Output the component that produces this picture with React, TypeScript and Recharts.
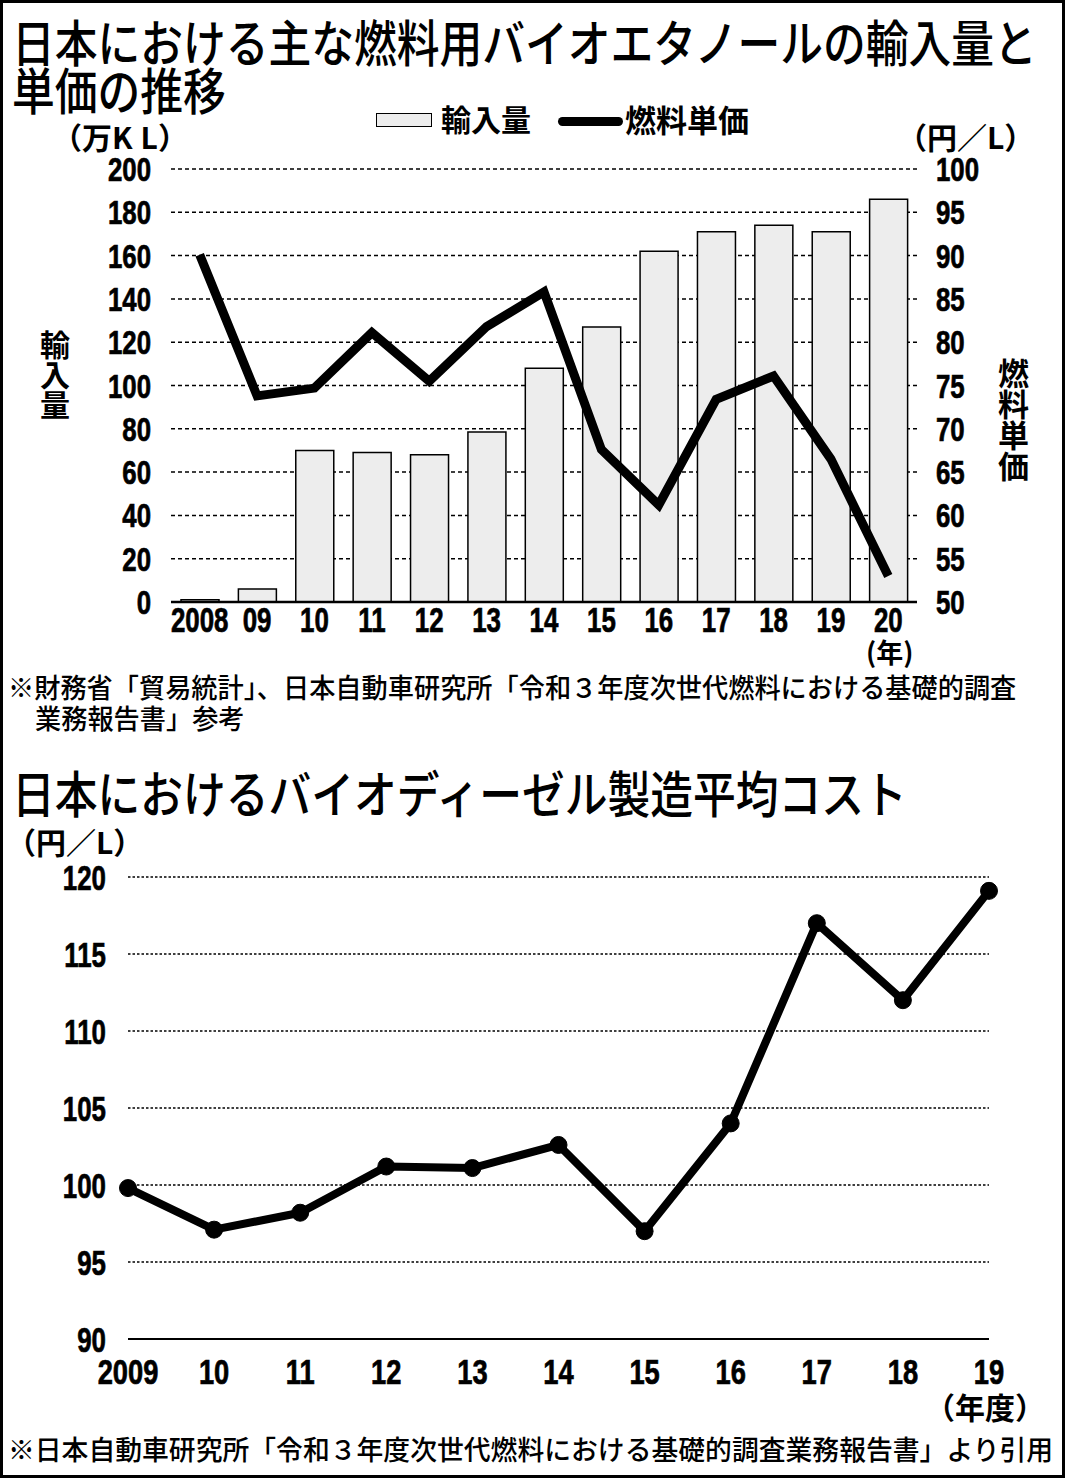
import React from 'react';
import { ComposedChart, LineChart, Bar, Line, XAxis, YAxis, CartesianGrid } from 'recharts';

// 燃料用バイオエタノール（年）
const ethanolYears = ['2008', '09', '10', '11', '12', '13', '14', '15', '16', '17', '18', '19', '20'];
const importVolume = [1, 6, 70, 69, 68, 78.5, 108, 127, 162, 171, 174, 171, 186]; // 万KL
const fuelPrice = [90.1, 73.8, 74.7, 81.1, 75.5, 81.8, 85.8, 67.6, 61.2, 73.4, 76.1, 66.5, 53]; // 円/L
const volumeTicks = [0, 20, 40, 60, 80, 100, 120, 140, 160, 180, 200];
const priceTicks = [50, 55, 60, 65, 70, 75, 80, 85, 90, 95, 100];

// バイオディーゼル製造平均コスト（年度）
const dieselYears = ['2009', '10', '11', '12', '13', '14', '15', '16', '17', '18', '19'];
const dieselCost = [99.8, 97.1, 98.2, 101.2, 101.1, 102.6, 97.0, 104.0, 117.0, 112.0, 119.1]; // 円/L
const costTicks = [90, 95, 100, 105, 110, 115, 120];

const ethanolRows = ethanolYears.map((year, i) => ({
  year,
  volume: importVolume[i],
  price: fuelPrice[i],
}));

const dieselRows = dieselYears.map((year, i) => ({ year, cost: dieselCost[i] }));

const JP = "'Noto Sans CJK JP', 'Noto Sans', sans-serif";
const NUM = "'Liberation Sans', Arial, sans-serif";

function NumTick(props: any) {
  const { x, y, payload, anchor, dy, size, sx } = props;
  return (
    <g transform={`translate(${x},${y})`}>
      <text
        transform={`scale(${sx},1)`}
        textAnchor={anchor}
        dy={dy}
        fontSize={size}
        fontWeight="bold"
        fontFamily={NUM}
        fill="#000"
        stroke="#000"
        strokeWidth={0.7}
      >
        {payload.value}
      </text>
    </g>
  );
}

function Txt({
  left,
  top,
  size,
  weight = 700,
  sx = 1,
  lh = 1,
  children,
  style,
}: {
  left: number;
  top: number;
  size: number;
  weight?: number;
  sx?: number;
  lh?: number;
  children: React.ReactNode;
  style?: React.CSSProperties;
}) {
  return (
    <div
      style={{
        position: 'absolute',
        left,
        top,
        fontSize: size,
        fontWeight: weight,
        fontFamily: JP,
        lineHeight: lh,
        whiteSpace: 'nowrap',
        color: '#000',
        transform: `scaleX(${sx})`,
        transformOrigin: 'left top',
        ...style,
      }}
    >
      {children}
    </div>
  );
}

const wideK = { letterSpacing: 8 };

export default function App() {
  return (
    <div style={{ position: 'absolute', left: 0, top: 0, width: 1065, height: 1478, background: '#fff' }}>
      {/* titles */}
      <Txt left={12} top={17} size={50} weight={500} sx={0.855} lh={0.92}>
        日本における主な燃料用バイオエタノールの輸入量と
      </Txt>
      <Txt left={12} top={65} size={50} weight={500} sx={0.855} lh={0.92}>
        単価の推移
      </Txt>

      {/* legend */}
      <div
        style={{
          position: 'absolute',
          left: 376,
          top: 113,
          width: 56,
          height: 14,
          background: '#ededed',
          border: '1.5px solid #000',
          boxSizing: 'border-box',
        }}
      />
      <Txt left={441} top={103} size={30}>輸入量</Txt>
      <div
        style={{
          position: 'absolute',
          left: 558,
          top: 117,
          width: 65,
          height: 9,
          background: '#000',
          borderRadius: 5,
        }}
      />
      <Txt left={625} top={103} size={31}>燃料単価</Txt>

      {/* units */}
      <Txt left={52} top={121} size={30}>
        （万<span style={wideK}>K</span>L）
      </Txt>
      <Txt left={897} top={121} size={30}>
        （円／L）
      </Txt>
      <Txt left={40} top={330} size={30} style={{ writingMode: 'vertical-rl' }}>輸入量</Txt>
      <Txt left={998} top={358} size={31} style={{ writingMode: 'vertical-rl' }}>燃料単価</Txt>
      <Txt left={866} top={638} size={27}>(年)</Txt>

      <div style={{ position: 'absolute', left: 0, top: 0 }}>
        <ComposedChart
          width={1065}
          height={680}
          data={ethanolRows}
          margin={{ top: 169, right: 88, bottom: 38, left: 111 }}
        >
          <CartesianGrid
            yAxisId="left"
            vertical={false}
            stroke="#000"
            strokeWidth={1.5}
            strokeDasharray="4 3"
          />
          <XAxis
            dataKey="year"
            height={40}
            axisLine={{ stroke: '#000', strokeWidth: 2.5 }}
            tickLine={false}
            tickSize={0}
            tickMargin={0}
            interval={0}
            tick={(p: any) => <NumTick {...p} anchor="middle" dy={30} size={35} sx={0.74} />}
          />
          <YAxis
            yAxisId="left"
            width={60}
            domain={[0, 200]}
            ticks={volumeTicks}
            axisLine={false}
            tickLine={false}
            tickSize={0}
            tickMargin={20}
            interval={0}
            tick={(p: any) => <NumTick {...p} anchor="end" dy={12} size={34} sx={0.76} />}
          />
          <YAxis
            yAxisId="right"
            orientation="right"
            width={60}
            domain={[50, 100]}
            ticks={priceTicks}
            axisLine={false}
            tickLine={false}
            tickSize={0}
            tickMargin={19}
            interval={0}
            tick={(p: any) => <NumTick {...p} anchor="start" dy={12} size={34} sx={0.76} />}
          />
          <Bar
            yAxisId="left"
            dataKey="volume"
            barSize={38}
            fill="#ededed"
            stroke="#000"
            strokeWidth={1.5}
            isAnimationActive={false}
          />
          <Line
            yAxisId="right"
            dataKey="price"
            type="linear"
            stroke="#000"
            strokeWidth={9}
            strokeLinejoin="miter"
            dot={false}
            activeDot={false}
            isAnimationActive={false}
          />
        </ComposedChart>
      </div>

      {/* source note 1 */}
      <Txt left={8} top={673} size={27} weight={500} sx={0.97}>
        ※財務省「貿易統計」、日本自動車研究所「令和３年度次世代燃料における基礎的調査
      </Txt>
      <Txt left={35} top={704} size={27} weight={500} sx={0.97}>
        業務報告書」参考
      </Txt>

      {/* second chart */}
      <Txt left={12} top={768} size={50} weight={500} sx={0.855} lh={0.92}>
        日本におけるバイオディーゼル製造平均コスト
      </Txt>
      <Txt left={6} top={826} size={30}>
        （円／L）
      </Txt>

      <div style={{ position: 'absolute', left: 0, top: 820 }}>
        <LineChart
          width={1065}
          height={600}
          data={dieselRows}
          margin={{ top: 57, right: 76, bottom: 41, left: 68 }}
        >
          <CartesianGrid vertical={false} stroke="#000" strokeWidth={1.3} strokeDasharray="2.5 2" />
          <XAxis
            dataKey="year"
            scale="point"
            padding={{ left: 0, right: 0 }}
            height={40}
            axisLine={{ stroke: '#000', strokeWidth: 2 }}
            tickLine={false}
            tickSize={0}
            tickMargin={0}
            interval={0}
            tick={(p: any) => <NumTick {...p} anchor="middle" dy={45} size={35} sx={0.78} />}
          />
          <YAxis
            width={60}
            domain={[90, 120]}
            ticks={costTicks}
            axisLine={false}
            tickLine={false}
            tickSize={0}
            tickMargin={22}
            interval={0}
            tick={(p: any) => <NumTick {...p} anchor="end" dy={12.5} size={35} sx={0.74} />}
          />
          <Line
            dataKey="cost"
            type="linear"
            stroke="#000"
            strokeWidth={8}
            strokeLinejoin="round"
            dot={{ r: 8.5, fill: '#000', stroke: '#000', strokeWidth: 1 }}
            activeDot={false}
            isAnimationActive={false}
          />
        </LineChart>
      </div>

      <Txt left={925} top={1391} size={30}>（年度）</Txt>

      {/* source note 2 */}
      <Txt left={8} top={1435} size={27.5} weight={500} sx={0.975}>
        ※日本自動車研究所「令和３年度次世代燃料における基礎的調査業務報告書」より引用
      </Txt>

      {/* frame */}
      <div
        style={{
          position: 'absolute',
          left: 0,
          top: 0,
          width: 1065,
          height: 1478,
          border: '3px solid #000',
          boxSizing: 'border-box',
          pointerEvents: 'none',
        }}
      />
    </div>
  );
}
